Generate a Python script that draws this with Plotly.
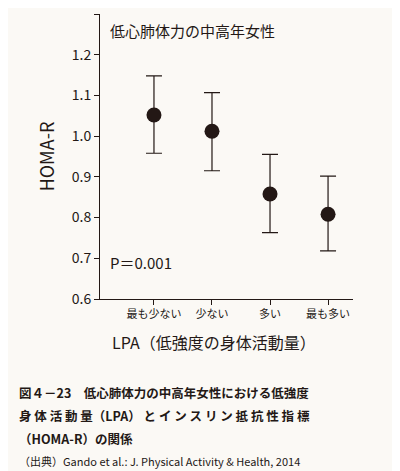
import plotly.graph_objects as go

categories = ["最も少ない", "少ない", "多い", "最も多い"]
homa_r = [1.052, 1.012, 0.858, 0.808]
err_upper = [1.148, 1.107, 0.955, 0.902]
err_lower = [0.958, 0.915, 0.763, 0.718]

FONT = "Noto Sans CJK JP"
BG = "#fbf9f5"

fig = go.Figure(go.Scatter(
    x=list(range(len(categories))), y=homa_r, mode="markers",
    marker=dict(size=15, color="#231815"),
    error_y=dict(type="data", symmetric=False,
                 array=[u - v for u, v in zip(err_upper, homa_r)],
                 arrayminus=[v - l for v, l in zip(homa_r, err_lower)],
                 color="#231815", thickness=1.2, width=8),
))

fig.update_xaxes(tickvals=list(range(len(categories))), ticktext=categories,
                 range=[-0.93, 3.43], showline=True, linecolor="#231815",
                 ticks="outside", ticklen=5, tickcolor="#231815",
                 showgrid=False, zeroline=False,
                 tickfont=dict(size=11, color="#231815"))
fig.update_yaxes(range=[0.6, 1.3], dtick=0.1, tickformat=".1f",
                 showline=True, linecolor="#231815",
                 ticks="outside", ticklen=5, tickcolor="#231815",
                 showgrid=False, zeroline=False,
                 tickfont=dict(size=14, color="#231815"),
                 title=dict(text="HOMA-R", font=dict(size=18, color="#231815"), standoff=12))


def note(text, x, y, size, xanchor="left", bold=False):
    fig.add_annotation(text=f"<b>{text}</b>" if bold else text, x=x, y=y,
                       xref="paper", yref="paper", showarrow=False,
                       xanchor=xanchor, font=dict(size=size, color="#231815", family=FONT))


note("低心肺体力の中高年女性", 0.03, 0.985, 15)
note("P＝0.001", 0.03, 0.085, 15)
note("LPA（低強度の身体活動量）", 0.45, -0.2, 16, "center")
note("図４－23　低心肺体力の中高年女性における低強度", -0.33, -0.37, 12.5, bold=True)
note("身 体 活 動 量（LPA） と イ ン ス リ ン 抵 抗 性 指 標", -0.33, -0.45, 12.5, bold=True)
note("（HOMA-R）の関係", -0.33, -0.53, 12.5, bold=True)
note("（出典）Gando et al.: J. Physical Activity & Health, 2014", -0.33, -0.605, 11)

fig.update_layout(width=400, height=471, paper_bgcolor=BG, plot_bgcolor=BG,
                  margin=dict(l=92, r=55, t=6, b=180), showlegend=False,
                  font=dict(family=FONT, color="#231815"))
fig.write_html("out.html")
